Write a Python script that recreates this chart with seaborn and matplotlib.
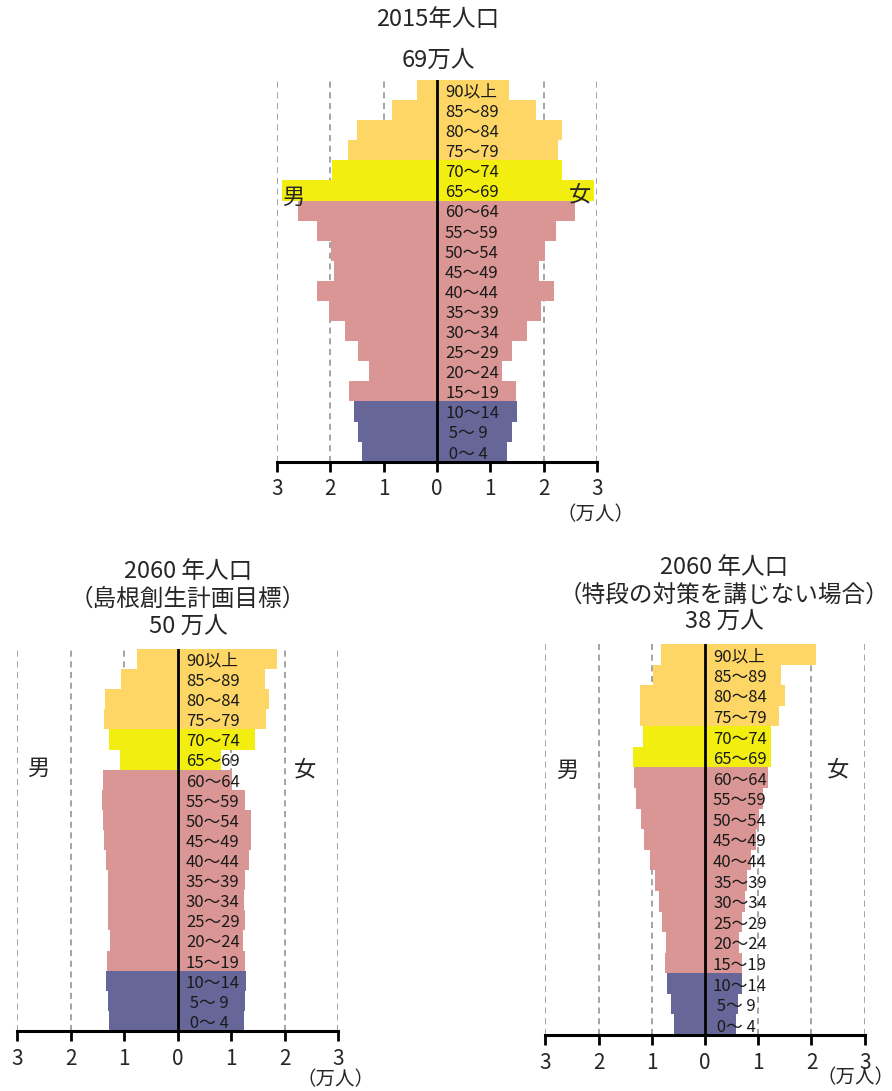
import pandas as pd
import matplotlib
matplotlib.use("Agg")
import matplotlib.pyplot as plt
import seaborn as sns

sns.set_style("white")
plt.rcParams["font.family"] = ["Noto Sans CJK JP", "DejaVu Sans"]

# Age classes, oldest first (top of pyramid)
ages = ["90以上", "85～89", "80～84", "75～79", "70～74", "65～69", "60～64",
        "55～59", "50～54", "45～49", "40～44", "35～39", "30～34", "25～29",
        "20～24", "15～19", "10～14", " 5～ 9", " 0～ 4"]
groups = ["75+"] * 4 + ["65-74"] * 2 + ["15-64"] * 10 + ["0-14"] * 3

# Population (10,000 persons), 2015
male_2015 = [0.37, 0.85, 1.49, 1.66, 1.96, 2.91, 2.61, 2.24, 1.98, 1.92,
             2.25, 2.03, 1.73, 1.47, 1.28, 1.64, 1.56, 1.47, 1.40]
female_2015 = [1.35, 1.85, 2.34, 2.27, 2.34, 2.94, 2.58, 2.23, 2.02, 1.91,
               2.19, 1.95, 1.69, 1.41, 1.22, 1.48, 1.50, 1.41, 1.31]

# 2060, planning target
male_2060a = [0.76, 1.06, 1.36, 1.38, 1.28, 1.08, 1.40, 1.41, 1.40, 1.38,
              1.34, 1.30, 1.30, 1.30, 1.27, 1.32, 1.34, 1.30, 1.28]
female_2060a = [1.85, 1.63, 1.71, 1.65, 1.44, 0.81, 1.02, 1.26, 1.37, 1.37,
                1.33, 1.26, 1.24, 1.26, 1.22, 1.26, 1.28, 1.26, 1.24]

# 2060, no special measures
male_2060b = [0.82, 0.97, 1.23, 1.23, 1.16, 1.36, 1.34, 1.29, 1.21, 1.14,
              1.03, 0.93, 0.86, 0.80, 0.73, 0.76, 0.71, 0.63, 0.59]
female_2060b = [2.09, 1.43, 1.51, 1.39, 1.24, 1.24, 1.19, 1.09, 1.02, 0.96,
                0.87, 0.79, 0.76, 0.70, 0.64, 0.70, 0.70, 0.62, 0.59]

xticks = [-3, -2, -1, 0, 1, 2, 3]
xtick_labels = ["3", "2", "1", "0", "1", "2", "3"]

palette = {"75+": "#FDD666", "65-74": "#F2EE0F",
           "15-64": "#DA9694", "0-14": "#666699"}

W, H = 892, 1091
fig = plt.figure(figsize=(W / 100, H / 100), dpi=100)


def px_axes(x0, x1, ytop, ybot):
    return fig.add_axes([x0 / W, 1 - ybot / H, (x1 - x0) / W, (ybot - ytop) / H])


def pyramid(ax, male, female):
    df = pd.DataFrame({"age": ages, "group": groups,
                       "male": [-v for v in male], "female": female})
    for col in ("male", "female"):
        sns.barplot(data=df, x=col, y="age", hue="group", palette=palette,
                    order=ages, dodge=False, width=1.0, linewidth=0,
                    saturation=1, legend=False, ax=ax, zorder=2)
    for v in (-3, -2, -1, 1, 2, 3):
        ax.axvline(v, color="#8c8c8c", lw=1.1, ls=(0, (4, 3)), zorder=1)
    ax.axvline(0, color="black", lw=2, zorder=4)
    ax.set_xlim(-3, 3)
    ax.set_ylim(len(ages) - 0.5, -0.5)
    ax.set_xticks(xticks)
    ax.set_xticklabels(xtick_labels, fontsize=15)
    ax.set_yticks([])
    ax.set_xlabel("")
    ax.set_ylabel("")
    for s in ("left", "right", "top"):
        ax.spines[s].set_visible(False)
    ax.spines["bottom"].set_linewidth(2.2)
    ax.spines["bottom"].set_color("black")
    ax.tick_params(axis="x", direction="out", length=7, width=2,
                   color="black", pad=5, bottom=True)
    ax.set_facecolor("none")
    for i, a in enumerate(ages):
        ax.text(0.15, i + 0.12, a, ha="left", va="center", fontsize=12,
                color="#1a1a1a", zorder=5)


def ftext(x, y, s, **kw):
    fig.text(x / W, 1 - y / H, s, ha="center", va="center", **kw)


TS = 17

# 2015
ax1 = px_axes(276.7, 597.3, 80, 461.7)
pyramid(ax1, male_2015, female_2015)
ftext(438, 20, "2015年人口", fontsize=TS)
ftext(438, 60, "69万人", fontsize=TS)
ftext(293, 197, "男", fontsize=16)
ftext(580, 195, "女", fontsize=16)
ftext(595, 515, "（万人）", fontsize=14)

# 2060 target
ax2 = px_axes(17.3, 338.3, 649, 1031)
pyramid(ax2, male_2060a, female_2060a)
ftext(188, 572, "2060 年人口", fontsize=TS)
ftext(188, 599, "（島根創生計画目標）", fontsize=TS)
ftext(188, 626, "50 万人", fontsize=TS)
ftext(38, 768, "男", fontsize=16)
ftext(305, 770, "女", fontsize=16)
ftext(336, 1080, "（万人）", fontsize=14)

# 2060 without measures
ax3 = px_axes(545.3, 864.7, 644, 1035)
pyramid(ax3, male_2060b, female_2060b)
ftext(724, 568, "2060 年人口", fontsize=TS)
ftext(724, 595, "（特段の対策を講じない場合）", fontsize=TS)
ftext(724, 621, "38 万人", fontsize=TS)
ftext(567, 770, "男", fontsize=16)
ftext(838, 770, "女", fontsize=16)
ftext(855, 1078, "（万人）", fontsize=14)

fig.savefig("out.png", dpi=100)
